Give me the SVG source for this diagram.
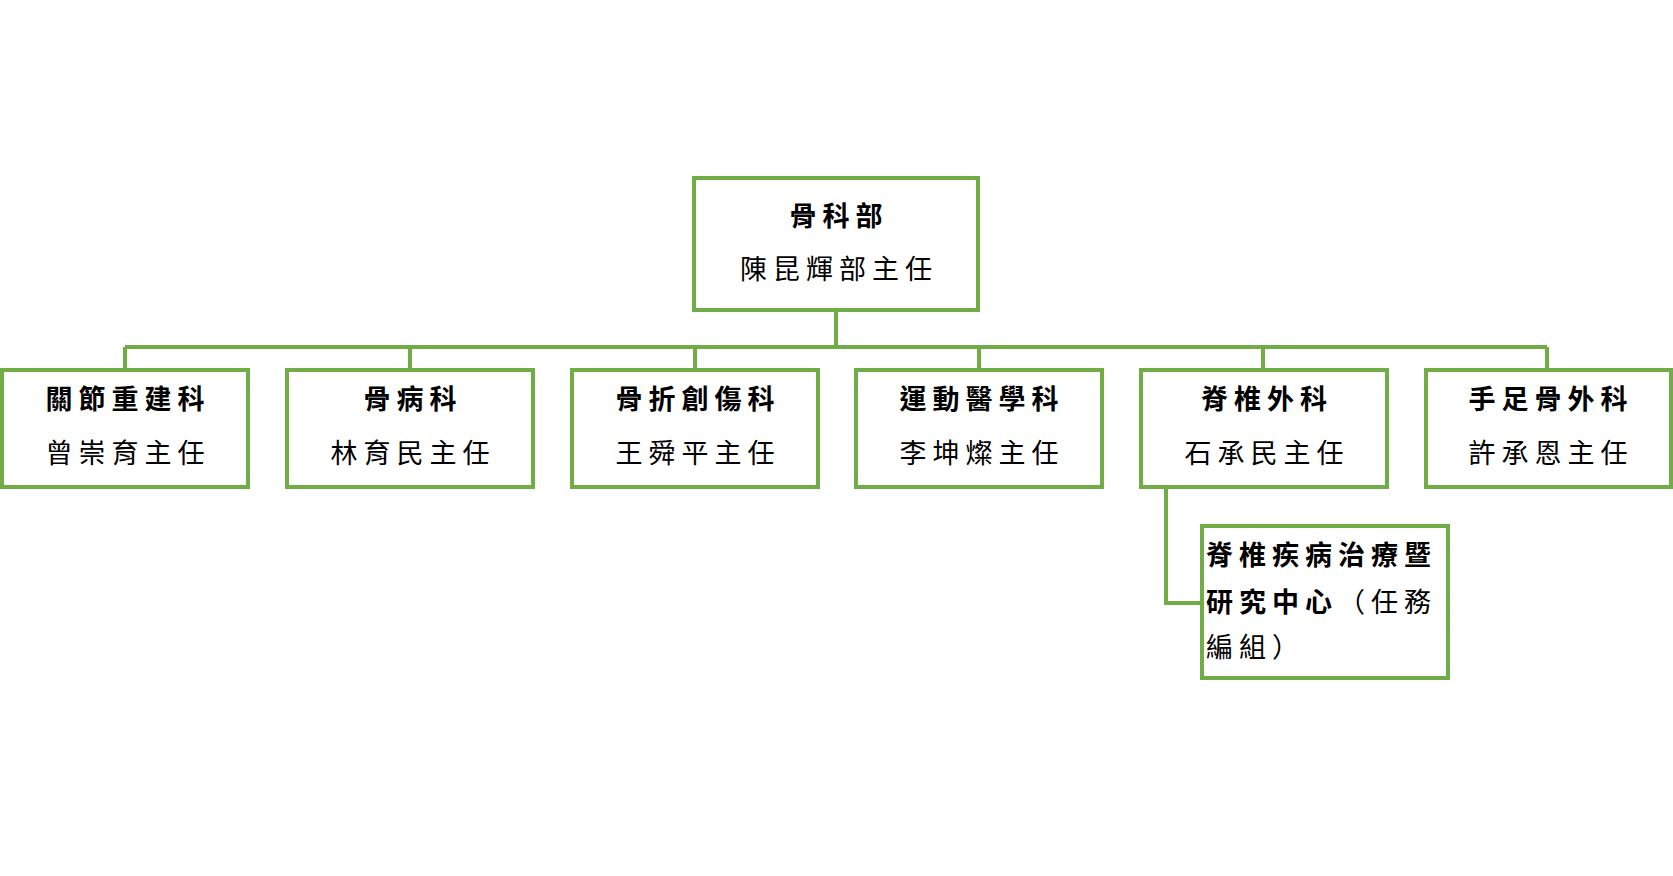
<svg xmlns="http://www.w3.org/2000/svg" width="1673" height="876" viewBox="0 0 1673 876">
<style>
.b{fill:#fff;stroke:#70ad47;stroke-width:4}
.c{fill:none;stroke:#70ad47;stroke-width:4}
text{font-family:"Noto Sans CJK TC","Noto Sans CJK SC",sans-serif;font-size:27px;fill:#000;letter-spacing:6px}
.t{font-weight:bold;text-anchor:middle}
.n{text-anchor:middle}
.l{font-weight:bold}
</style>
<rect width="1673" height="876" fill="#fff"/>
<g id="connectors">
<path class="c" d="M836 308V347M125 347H1547M125 347V368M410 347V368M695 347V368M979 347V368M1263 347V368M1547 347V368"/>
<path class="c" d="M1166 485V603H1202"/>
</g>
<g id="n0"><rect class="b" x="694" y="178" width="284" height="132"/><text class="t" x="839" y="226">骨科部</text><text class="n" x="839" y="279">陳昆輝部主任</text></g>
<g id="n1"><rect class="b" x="2" y="370" width="246" height="117"/><text class="t" x="128" y="409">關節重建科</text><text class="n" x="128" y="463">曾崇育主任</text></g>
<g id="n2"><rect class="b" x="287" y="370" width="246" height="117"/><text class="t" x="413" y="409">骨病科</text><text class="n" x="413" y="463">林育民主任</text></g>
<g id="n3"><rect class="b" x="572" y="370" width="246" height="117"/><text class="t" x="698" y="409">骨折創傷科</text><text class="n" x="698" y="463">王舜平主任</text></g>
<g id="n4"><rect class="b" x="856" y="370" width="246" height="117"/><text class="t" x="982" y="409">運動醫學科</text><text class="n" x="982" y="463">李坤燦主任</text></g>
<g id="n5"><rect class="b" x="1141" y="370" width="246" height="117"/><text class="t" x="1267" y="409">脊椎外科</text><text class="n" x="1267" y="463">石承民主任</text></g>
<g id="n6"><rect class="b" x="1426" y="370" width="245" height="117"/><text class="t" x="1551" y="409">手足骨外科</text><text class="n" x="1551" y="463">許承恩主任</text></g>
<g id="n7"><rect class="b" x="1202" y="526" width="246" height="152"/>
<text class="l" x="1206" y="565">脊椎疾病治療暨</text>
<text x="1206" y="612"><tspan font-weight="bold">研究中心</tspan>（任務</text>
<text x="1206" y="657">編組）</text></g>
</svg>
